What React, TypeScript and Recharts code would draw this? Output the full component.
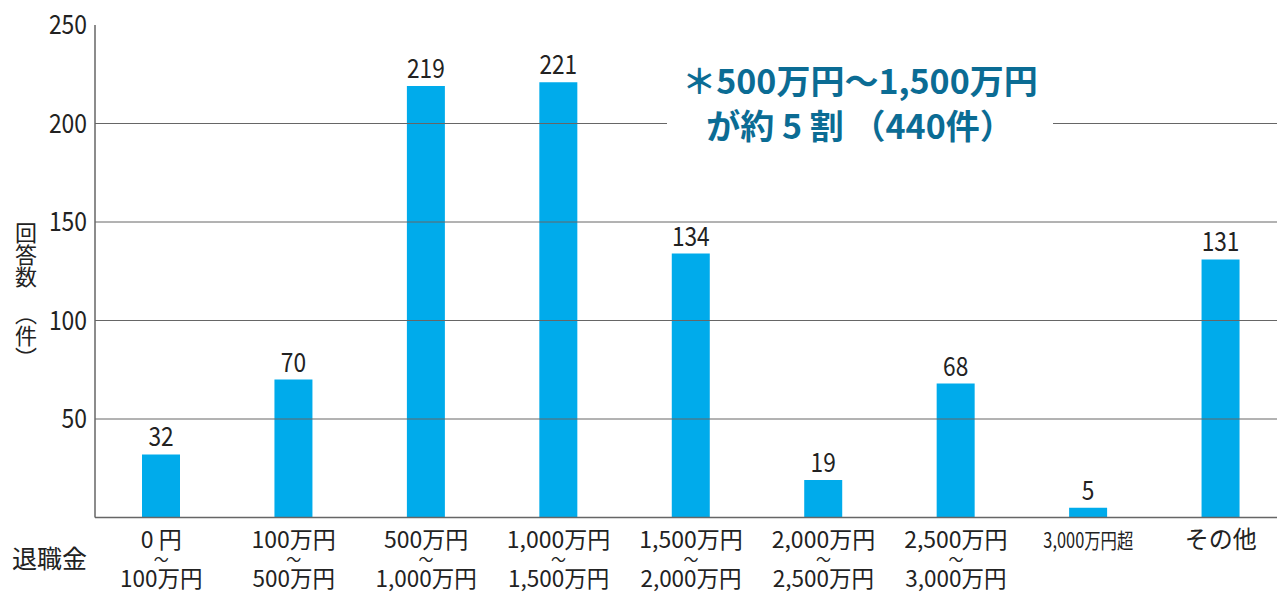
import * as React from 'react';
import { BarChart, Bar, XAxis, YAxis, ReferenceLine, LabelList } from 'recharts';

const categories = [
  '0 円〜100万円',
  '100万円〜500万円',
  '500万円〜1,000万円',
  '1,000万円〜1,500万円',
  '1,500万円〜2,000万円',
  '2,000万円〜2,500万円',
  '2,500万円〜3,000万円',
  '3,000万円超',
  'その他',
];
const counts = [32, 70, 219, 221, 134, 19, 68, 5, 131];
const yTicks = [50, 100, 150, 200, 250];
const gridValues = [50, 100, 150, 200];

const data = categories.map((c, i) => ({ name: c, value: counts[i] }));

const FONT = '"Noto Sans CJK JP", sans-serif';
const BAR = '#00abeb';
const AXIS = '#666';
const TEXT = '#222';

// condensed digits: squeeze the glyphs to roughly 12.6px per character
function YTick(props: any) {
  const { x, y, payload } = props;
  const s = String(payload.value);
  return (
    <text
      x={x}
      y={y + 9}
      textAnchor="end"
      fontFamily={FONT}
      fontSize={27}
      fill={TEXT}
      textLength={s.length * 12.7}
      lengthAdjust="spacingAndGlyphs"
    >
      {s}
    </text>
  );
}

function ValueLabel(props: any) {
  const { x, y, width, value } = props;
  const s = String(value);
  return (
    <text
      x={x + width / 2}
      y={y - 8}
      textAnchor="middle"
      fontFamily={FONT}
      fontSize={26}
      fill={TEXT}
      textLength={s.length * 12.6}
      lengthAdjust="spacingAndGlyphs"
    >
      {s}
    </text>
  );
}

function XTick(props: any) {
  const { x, y, payload } = props;
  const parts = String(payload.value).split('〜');
  if (parts.length === 1) {
    const small = parts[0] !== 'その他';
    return (
      <text
        x={x}
        y={y + 22}
        textAnchor="middle"
        fontFamily={FONT}
        fontSize={small ? 21 : 24}
        fill={TEXT}
        textLength={small ? 90 : undefined}
        lengthAdjust="spacingAndGlyphs"
      >
        {parts[0]}
      </text>
    );
  }
  // one text element: upper amount, a small wave dash, lower amount
  return (
    <text x={x} y={y + 22} textAnchor="middle" fontFamily={FONT} fill={TEXT} fontSize={23}>
      <tspan x={x} dy={0}>{parts[0]}</tspan>
      <tspan x={x} dy={17} fontSize={15}>〜</tspan>
      <tspan x={x} dy={22} fontSize={22.5}>{parts[1]}</tspan>
    </text>
  );
}

export default function App() {
  return (
    <div style={{ position: 'absolute', left: 0, top: 0, width: 1277, height: 592, overflow: 'hidden', background: '#fff' }}>
      <BarChart
        width={1290}
        height={592}
        data={data}
        margin={{ top: 25, right: 3, bottom: 0, left: 0 }}
      >
        {gridValues.map((v) => (
          <ReferenceLine key={v} y={v} stroke={AXIS} strokeWidth={1} />
        ))}
        <XAxis
          dataKey="name"
          height={74.5}
          interval={0}
          axisLine={{ stroke: AXIS, strokeWidth: 1.5 }}
          tickLine={false}
          tick={<XTick />}
        />
        <YAxis
          width={95}
          domain={[0, 250]}
          ticks={yTicks}
          axisLine={{ stroke: AXIS, strokeWidth: 1.5 }}
          tickLine={false}
          tick={<YTick />}
        />
        <Bar dataKey="value" fill={BAR} barSize={38} isAnimationActive={false}>
          <LabelList dataKey="value" content={<ValueLabel />} />
        </Bar>
      </BarChart>
      <div
        style={{
          position: 'absolute',
          left: 14,
          top: 222,
          writingMode: 'vertical-rl',
          fontFamily: FONT,
          fontSize: 22,
          lineHeight: '24px',
          color: TEXT,
        }}
      >
        回答数
      </div>
      <div
        style={{
          position: 'absolute',
          left: 14,
          top: 303,
          writingMode: 'vertical-rl',
          fontFamily: FONT,
          fontSize: 22,
          lineHeight: '24px',
          color: TEXT,
        }}
      >
        （件）
      </div>
      <div
        style={{
          position: 'absolute',
          left: 12,
          top: 542,
          fontFamily: FONT,
          fontSize: 25,
          lineHeight: '30px',
          color: TEXT,
        }}
      >
        退職金
      </div>
      <div
        style={{
          position: 'absolute',
          left: 667,
          top: 57,
          width: 386,
          background: '#fff',
          textAlign: 'center',
          fontFamily: FONT,
          fontWeight: 'bold',
          fontSize: 34,
          lineHeight: '45px',
          color: '#0b6c94',
        }}
      >
        ＊500万円〜1,500万円
        <br />
        が約 5 割 （440件）
      </div>
    </div>
  );
}
